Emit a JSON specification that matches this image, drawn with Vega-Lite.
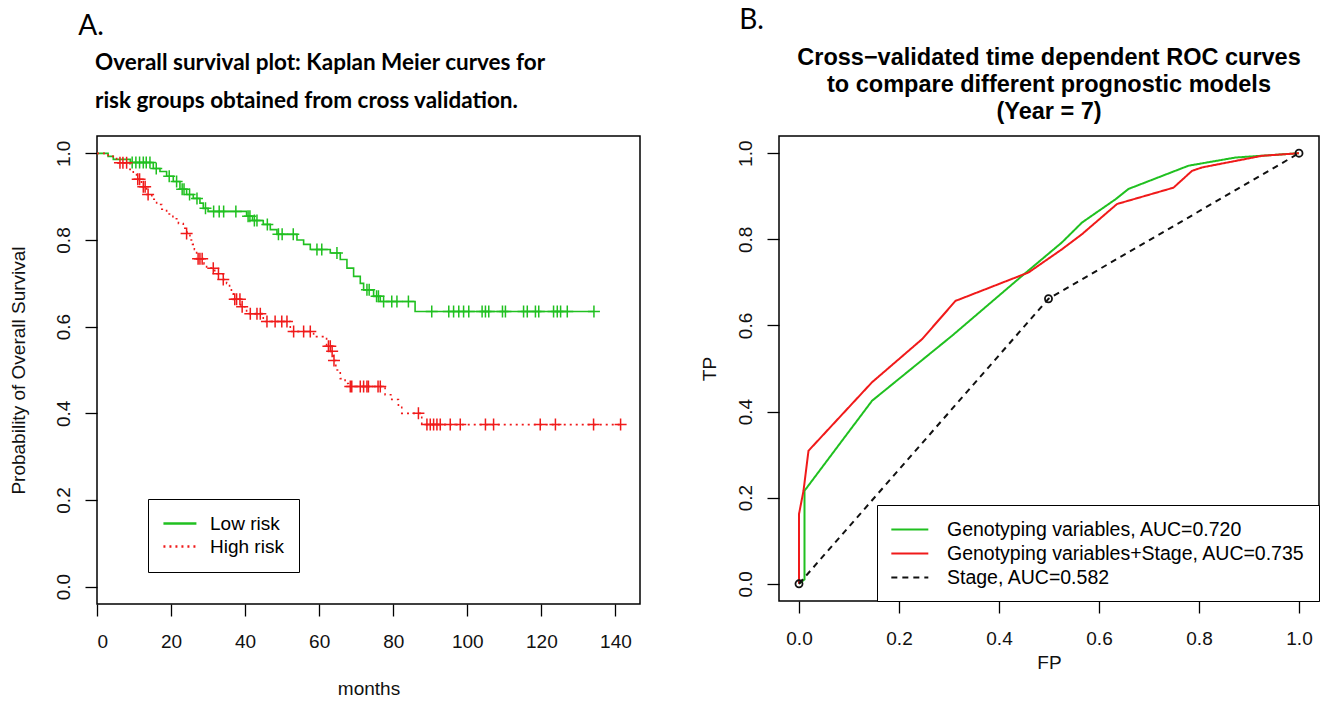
{
  "$schema": "https://vega.github.io/schema/vega-lite/v6.json",
  "background": "white",
  "autosize": {"type": "pad"},
  "padding": {"left": 8, "top": 6, "right": 2, "bottom": 2},
  "spacing": 58,
  "resolve": {
    "scale": {"color": "independent", "strokeDash": "independent", "x": "independent", "y": "independent"},
    "legend": {"color": "independent", "strokeDash": "independent"}
  },
  "datasets": {
    "km": [
      {"group": "Low risk", "t": 0, "s": 1.0},
      {"group": "Low risk", "t": 3, "s": 0.993},
      {"group": "Low risk", "t": 4.4, "s": 0.986},
      {"group": "Low risk", "t": 9, "s": 0.979},
      {"group": "Low risk", "t": 15.2, "s": 0.965},
      {"group": "Low risk", "t": 17.0, "s": 0.958},
      {"group": "Low risk", "t": 18.8, "s": 0.947},
      {"group": "Low risk", "t": 20.6, "s": 0.935},
      {"group": "Low risk", "t": 22.4, "s": 0.917},
      {"group": "Low risk", "t": 24.2, "s": 0.905},
      {"group": "Low risk", "t": 26.0, "s": 0.896},
      {"group": "Low risk", "t": 27.8, "s": 0.885},
      {"group": "Low risk", "t": 28.7, "s": 0.873},
      {"group": "Low risk", "t": 30.0, "s": 0.866},
      {"group": "Low risk", "t": 40.4, "s": 0.855},
      {"group": "Low risk", "t": 42.0, "s": 0.845},
      {"group": "Low risk", "t": 44.9, "s": 0.836},
      {"group": "Low risk", "t": 46.8, "s": 0.824},
      {"group": "Low risk", "t": 48.6, "s": 0.813},
      {"group": "Low risk", "t": 54.0, "s": 0.80},
      {"group": "Low risk", "t": 55.8, "s": 0.79},
      {"group": "Low risk", "t": 57.6, "s": 0.778},
      {"group": "Low risk", "t": 63.0, "s": 0.77},
      {"group": "Low risk", "t": 65.7, "s": 0.755},
      {"group": "Low risk", "t": 67.5, "s": 0.735},
      {"group": "Low risk", "t": 69.3, "s": 0.716},
      {"group": "Low risk", "t": 71.1, "s": 0.70},
      {"group": "Low risk", "t": 72.0, "s": 0.685},
      {"group": "Low risk", "t": 74.7, "s": 0.67},
      {"group": "Low risk", "t": 76.5, "s": 0.658},
      {"group": "Low risk", "t": 85.9, "s": 0.635},
      {"group": "Low risk", "t": 134.2, "s": 0.635},
      {"group": "High risk", "t": 0, "s": 1.0},
      {"group": "High risk", "t": 3, "s": 0.993},
      {"group": "High risk", "t": 5.3, "s": 0.978},
      {"group": "High risk", "t": 8.9, "s": 0.963},
      {"group": "High risk", "t": 9.8, "s": 0.951},
      {"group": "High risk", "t": 10.7, "s": 0.94},
      {"group": "High risk", "t": 12.0, "s": 0.923},
      {"group": "High risk", "t": 13.4, "s": 0.905},
      {"group": "High risk", "t": 14.8, "s": 0.894},
      {"group": "High risk", "t": 16.1, "s": 0.882},
      {"group": "High risk", "t": 17.5, "s": 0.871},
      {"group": "High risk", "t": 18.8, "s": 0.86},
      {"group": "High risk", "t": 20.5, "s": 0.849},
      {"group": "High risk", "t": 22.0, "s": 0.838},
      {"group": "High risk", "t": 23.3, "s": 0.827},
      {"group": "High risk", "t": 24.3, "s": 0.815},
      {"group": "High risk", "t": 25.1, "s": 0.80},
      {"group": "High risk", "t": 25.8, "s": 0.79},
      {"group": "High risk", "t": 26.3, "s": 0.778},
      {"group": "High risk", "t": 26.9, "s": 0.757},
      {"group": "High risk", "t": 28.9, "s": 0.745},
      {"group": "High risk", "t": 29.6, "s": 0.735},
      {"group": "High risk", "t": 31.8, "s": 0.722},
      {"group": "High risk", "t": 34.1, "s": 0.709},
      {"group": "High risk", "t": 35.0, "s": 0.70},
      {"group": "High risk", "t": 35.8, "s": 0.688},
      {"group": "High risk", "t": 36.3, "s": 0.676},
      {"group": "High risk", "t": 36.8, "s": 0.663},
      {"group": "High risk", "t": 38.8, "s": 0.646},
      {"group": "High risk", "t": 40.4, "s": 0.63},
      {"group": "High risk", "t": 44.9, "s": 0.612},
      {"group": "High risk", "t": 52.2, "s": 0.589},
      {"group": "High risk", "t": 58.5, "s": 0.577},
      {"group": "High risk", "t": 62.0, "s": 0.555},
      {"group": "High risk", "t": 63.2, "s": 0.543},
      {"group": "High risk", "t": 63.8, "s": 0.522},
      {"group": "High risk", "t": 64.5, "s": 0.50},
      {"group": "High risk", "t": 65.7, "s": 0.48},
      {"group": "High risk", "t": 67.0, "s": 0.469},
      {"group": "High risk", "t": 67.9, "s": 0.462},
      {"group": "High risk", "t": 77.8, "s": 0.443},
      {"group": "High risk", "t": 79.6, "s": 0.432},
      {"group": "High risk", "t": 81.4, "s": 0.416},
      {"group": "High risk", "t": 82.3, "s": 0.40},
      {"group": "High risk", "t": 87.7, "s": 0.374},
      {"group": "High risk", "t": 141.4, "s": 0.374}
    ],
    "cens": [
      {"group": "Low risk", "t": 9.5, "s": 0.979},
      {"group": "Low risk", "t": 10.5, "s": 0.979},
      {"group": "Low risk", "t": 11.5, "s": 0.979},
      {"group": "Low risk", "t": 12.5, "s": 0.979},
      {"group": "Low risk", "t": 13.3, "s": 0.979},
      {"group": "Low risk", "t": 14.3, "s": 0.979},
      {"group": "Low risk", "t": 16.0, "s": 0.965},
      {"group": "Low risk", "t": 19.5, "s": 0.947},
      {"group": "Low risk", "t": 21.5, "s": 0.935},
      {"group": "Low risk", "t": 23.0, "s": 0.917},
      {"group": "Low risk", "t": 23.5, "s": 0.917},
      {"group": "Low risk", "t": 25.0, "s": 0.905},
      {"group": "Low risk", "t": 27.0, "s": 0.896},
      {"group": "Low risk", "t": 29.3, "s": 0.873},
      {"group": "Low risk", "t": 31.5, "s": 0.866},
      {"group": "Low risk", "t": 33.0, "s": 0.866},
      {"group": "Low risk", "t": 34.2, "s": 0.866},
      {"group": "Low risk", "t": 37.5, "s": 0.866},
      {"group": "Low risk", "t": 40.8, "s": 0.855},
      {"group": "Low risk", "t": 41.3, "s": 0.855},
      {"group": "Low risk", "t": 42.5, "s": 0.845},
      {"group": "Low risk", "t": 43.2, "s": 0.845},
      {"group": "Low risk", "t": 46.0, "s": 0.836},
      {"group": "Low risk", "t": 49.0, "s": 0.813},
      {"group": "Low risk", "t": 50.0, "s": 0.813},
      {"group": "Low risk", "t": 53.0, "s": 0.813},
      {"group": "Low risk", "t": 59.4, "s": 0.778},
      {"group": "Low risk", "t": 60.7, "s": 0.778},
      {"group": "Low risk", "t": 64.8, "s": 0.77},
      {"group": "Low risk", "t": 72.9, "s": 0.685},
      {"group": "Low risk", "t": 73.5, "s": 0.685},
      {"group": "Low risk", "t": 75.5, "s": 0.67},
      {"group": "Low risk", "t": 76.0, "s": 0.67},
      {"group": "Low risk", "t": 77.4, "s": 0.658},
      {"group": "Low risk", "t": 79.6, "s": 0.658},
      {"group": "Low risk", "t": 81.0, "s": 0.658},
      {"group": "Low risk", "t": 84.1, "s": 0.658},
      {"group": "Low risk", "t": 90.4, "s": 0.635},
      {"group": "Low risk", "t": 95.0, "s": 0.635},
      {"group": "Low risk", "t": 96.3, "s": 0.635},
      {"group": "Low risk", "t": 97.7, "s": 0.635},
      {"group": "Low risk", "t": 99.0, "s": 0.635},
      {"group": "Low risk", "t": 100.4, "s": 0.635},
      {"group": "Low risk", "t": 104.0, "s": 0.635},
      {"group": "Low risk", "t": 104.9, "s": 0.635},
      {"group": "Low risk", "t": 105.8, "s": 0.635},
      {"group": "Low risk", "t": 109.5, "s": 0.635},
      {"group": "Low risk", "t": 110.3, "s": 0.635},
      {"group": "Low risk", "t": 115.2, "s": 0.635},
      {"group": "Low risk", "t": 116.2, "s": 0.635},
      {"group": "Low risk", "t": 118.4, "s": 0.635},
      {"group": "Low risk", "t": 119.3, "s": 0.635},
      {"group": "Low risk", "t": 123.3, "s": 0.635},
      {"group": "Low risk", "t": 124.3, "s": 0.635},
      {"group": "Low risk", "t": 125.2, "s": 0.635},
      {"group": "Low risk", "t": 127.0, "s": 0.635},
      {"group": "Low risk", "t": 134.2, "s": 0.635},
      {"group": "High risk", "t": 6.2, "s": 0.978},
      {"group": "High risk", "t": 7.0, "s": 0.978},
      {"group": "High risk", "t": 8.0, "s": 0.978},
      {"group": "High risk", "t": 11.0, "s": 0.94},
      {"group": "High risk", "t": 11.5, "s": 0.94},
      {"group": "High risk", "t": 12.5, "s": 0.923},
      {"group": "High risk", "t": 13.0, "s": 0.923},
      {"group": "High risk", "t": 13.8, "s": 0.905},
      {"group": "High risk", "t": 24.2, "s": 0.815},
      {"group": "High risk", "t": 27.3, "s": 0.757},
      {"group": "High risk", "t": 27.8, "s": 0.757},
      {"group": "High risk", "t": 28.4, "s": 0.757},
      {"group": "High risk", "t": 31.4, "s": 0.735},
      {"group": "High risk", "t": 32.8, "s": 0.722},
      {"group": "High risk", "t": 34.1, "s": 0.709},
      {"group": "High risk", "t": 37.2, "s": 0.663},
      {"group": "High risk", "t": 37.7, "s": 0.663},
      {"group": "High risk", "t": 38.6, "s": 0.663},
      {"group": "High risk", "t": 39.2, "s": 0.646},
      {"group": "High risk", "t": 41.4, "s": 0.63},
      {"group": "High risk", "t": 43.2, "s": 0.63},
      {"group": "High risk", "t": 44.1, "s": 0.63},
      {"group": "High risk", "t": 45.9, "s": 0.612},
      {"group": "High risk", "t": 48.1, "s": 0.612},
      {"group": "High risk", "t": 49.9, "s": 0.612},
      {"group": "High risk", "t": 51.3, "s": 0.612},
      {"group": "High risk", "t": 53.1, "s": 0.589},
      {"group": "High risk", "t": 55.8, "s": 0.589},
      {"group": "High risk", "t": 57.6, "s": 0.589},
      {"group": "High risk", "t": 62.5, "s": 0.555},
      {"group": "High risk", "t": 63.0, "s": 0.555},
      {"group": "High risk", "t": 63.5, "s": 0.543},
      {"group": "High risk", "t": 64.0, "s": 0.522},
      {"group": "High risk", "t": 68.4, "s": 0.462},
      {"group": "High risk", "t": 68.8, "s": 0.462},
      {"group": "High risk", "t": 71.1, "s": 0.462},
      {"group": "High risk", "t": 72.0, "s": 0.462},
      {"group": "High risk", "t": 72.9, "s": 0.462},
      {"group": "High risk", "t": 73.3, "s": 0.462},
      {"group": "High risk", "t": 75.9, "s": 0.462},
      {"group": "High risk", "t": 76.5, "s": 0.462},
      {"group": "High risk", "t": 86.8, "s": 0.40},
      {"group": "High risk", "t": 89.1, "s": 0.374},
      {"group": "High risk", "t": 90.0, "s": 0.374},
      {"group": "High risk", "t": 90.9, "s": 0.374},
      {"group": "High risk", "t": 91.8, "s": 0.374},
      {"group": "High risk", "t": 92.7, "s": 0.374},
      {"group": "High risk", "t": 95.4, "s": 0.374},
      {"group": "High risk", "t": 98.1, "s": 0.374},
      {"group": "High risk", "t": 104.9, "s": 0.374},
      {"group": "High risk", "t": 107.1, "s": 0.374},
      {"group": "High risk", "t": 119.7, "s": 0.374},
      {"group": "High risk", "t": 123.8, "s": 0.374},
      {"group": "High risk", "t": 134.1, "s": 0.374},
      {"group": "High risk", "t": 141.4, "s": 0.374}
    ],
    "roc": [
      {"model": "Genotyping variables, AUC=0.720", "i": 0, "fp": 0, "tp": 0},
      {"model": "Genotyping variables, AUC=0.720", "i": 1, "fp": 0.011, "tp": 0.01},
      {"model": "Genotyping variables, AUC=0.720", "i": 2, "fp": 0.011, "tp": 0.216},
      {"model": "Genotyping variables, AUC=0.720", "i": 3, "fp": 0.146, "tp": 0.425},
      {"model": "Genotyping variables, AUC=0.720", "i": 4, "fp": 0.306, "tp": 0.576},
      {"model": "Genotyping variables, AUC=0.720", "i": 5, "fp": 0.446, "tp": 0.715},
      {"model": "Genotyping variables, AUC=0.720", "i": 6, "fp": 0.526, "tp": 0.793},
      {"model": "Genotyping variables, AUC=0.720", "i": 7, "fp": 0.566, "tp": 0.839},
      {"model": "Genotyping variables, AUC=0.720", "i": 8, "fp": 0.633, "tp": 0.893},
      {"model": "Genotyping variables, AUC=0.720", "i": 9, "fp": 0.659, "tp": 0.917},
      {"model": "Genotyping variables, AUC=0.720", "i": 10, "fp": 0.779, "tp": 0.971},
      {"model": "Genotyping variables, AUC=0.720", "i": 11, "fp": 0.873, "tp": 0.99},
      {"model": "Genotyping variables, AUC=0.720", "i": 12, "fp": 1.0, "tp": 1.0},
      {"model": "Genotyping variables+Stage, AUC=0.735", "i": 0, "fp": 0, "tp": 0},
      {"model": "Genotyping variables+Stage, AUC=0.735", "i": 1, "fp": 0, "tp": 0.162},
      {"model": "Genotyping variables+Stage, AUC=0.735", "i": 2, "fp": 0.009, "tp": 0.216},
      {"model": "Genotyping variables+Stage, AUC=0.735", "i": 3, "fp": 0.019, "tp": 0.309},
      {"model": "Genotyping variables+Stage, AUC=0.735", "i": 4, "fp": 0.146, "tp": 0.468},
      {"model": "Genotyping variables+Stage, AUC=0.735", "i": 5, "fp": 0.246, "tp": 0.568},
      {"model": "Genotyping variables+Stage, AUC=0.735", "i": 6, "fp": 0.313, "tp": 0.657},
      {"model": "Genotyping variables+Stage, AUC=0.735", "i": 7, "fp": 0.459, "tp": 0.723},
      {"model": "Genotyping variables+Stage, AUC=0.735", "i": 8, "fp": 0.526, "tp": 0.777},
      {"model": "Genotyping variables+Stage, AUC=0.735", "i": 9, "fp": 0.566, "tp": 0.812},
      {"model": "Genotyping variables+Stage, AUC=0.735", "i": 10, "fp": 0.636, "tp": 0.882},
      {"model": "Genotyping variables+Stage, AUC=0.735", "i": 11, "fp": 0.749, "tp": 0.92},
      {"model": "Genotyping variables+Stage, AUC=0.735", "i": 12, "fp": 0.786, "tp": 0.959},
      {"model": "Genotyping variables+Stage, AUC=0.735", "i": 13, "fp": 0.806, "tp": 0.967},
      {"model": "Genotyping variables+Stage, AUC=0.735", "i": 14, "fp": 0.926, "tp": 0.994},
      {"model": "Genotyping variables+Stage, AUC=0.735", "i": 15, "fp": 1.0, "tp": 1.0},
      {"model": "Stage, AUC=0.582", "i": 0, "fp": 0, "tp": 0},
      {"model": "Stage, AUC=0.582", "i": 1, "fp": 0.499, "tp": 0.662},
      {"model": "Stage, AUC=0.582", "i": 2, "fp": 1.0, "tp": 1.0}
    ]
  },
  "hconcat": [
    {
      "title": {"text": "A.", "anchor": "start", "font": "Lato", "fontSize": 28, "fontWeight": "normal", "color": "black", "offset": 10, "dx": 70},
      "hconcat": [
        {
          "width": 543,
          "height": 468,
          "title": {
            "text": ["Overall survival plot: Kaplan Meier curves for", "risk groups obtained from cross validation."],
            "anchor": "start", "frame": "group", "font": "Lato", "fontSize": 22.5, "fontWeight": "bold",
            "lineHeight": 38, "offset": 24, "color": "black", "dx": -2
          },
          "layer": [
            {
              "data": {"name": "km"},
              "mark": {"type": "line", "interpolate": "step-after", "strokeWidth": 1.6},
              "encoding": {
                "x": {"field": "t", "type": "quantitative",
                  "scale": {"domain": [0, 146.64], "nice": false, "zero": false},
                  "axis": {"values": [0, 20, 40, 60, 80, 100, 120, 140], "format": "d", "title": "months", "titlePadding": 28}},
                "y": {"field": "s", "type": "quantitative",
                  "scale": {"domain": [-0.04, 1.04], "nice": false, "zero": false},
                  "axis": {"values": [0, 0.2, 0.4, 0.6, 0.8, 1.0], "format": ".1f", "title": "Probability of Overall Survival", "titlePadding": 26}},
                "color": {"field": "group", "type": "nominal",
                  "scale": {"domain": ["Low risk", "High risk"], "range": ["#20c020", "#f01a1a"]},
                  "legend": {"title": null, "orient": "none", "legendX": 51, "legendY": 363, "strokeColor": "black", "fillColor": "white",
                    "padding": 15, "symbolType": "M-1.1,0H2.9", "symbolSize": 272, "symbolStrokeWidth": 2.5,
                    "labelFont": "Liberation Sans", "labelFontSize": 19, "labelColor": "black", "labelOffset": 28, "rowPadding": 3}},
                "strokeDash": {"field": "group", "type": "nominal",
                  "scale": {"domain": ["Low risk", "High risk"], "range": [[1, 0], [2, 4]]},
                  "legend": {"title": null, "orient": "none", "legendX": 51, "legendY": 363, "strokeColor": "black", "fillColor": "white",
                    "padding": 15, "symbolType": "M-1.1,0H2.9", "symbolSize": 272, "symbolStrokeWidth": 2.5,
                    "labelFont": "Liberation Sans", "labelFontSize": 19, "labelColor": "black", "labelOffset": 28, "rowPadding": 3}}
              }
            },
            {
              "data": {"name": "cens"},
              "transform": [{"filter": "datum.group === 'Low risk'"}],
              "mark": {"type": "point", "shape": "M-1,0H1M0,-1V1", "filled": false, "size": 144, "strokeWidth": 1.5, "color": "#20c020", "opacity": 1},
              "encoding": {
                "x": {"field": "t", "type": "quantitative"},
                "y": {"field": "s", "type": "quantitative"}
              }
            },
            {
              "data": {"name": "cens"},
              "transform": [{"filter": "datum.group === 'High risk'"}],
              "mark": {"type": "point", "shape": "M-1,0H1M0,-1V1", "filled": false, "size": 144, "strokeWidth": 1.5, "color": "#f01a1a", "opacity": 1},
              "encoding": {
                "x": {"field": "t", "type": "quantitative"},
                "y": {"field": "s", "type": "quantitative"}
              }
            }
          ]
        }
      ]
    },
    {
      "title": {"text": "B.", "anchor": "start", "font": "Lato", "fontSize": 28, "fontWeight": "normal", "color": "black", "offset": 10, "dx": 40},
      "hconcat": [
        {
          "width": 540,
          "height": 465,
          "title": {
            "text": ["Cross\u2212validated time dependent ROC curves", "to compare different prognostic models", "(Year = 7)"],
            "anchor": "middle", "frame": "group", "font": "Liberation Sans", "fontSize": 23.5, "fontWeight": "bold",
            "lineHeight": 27, "offset": 13, "color": "black"
          },
          "layer": [
            {
              "data": {"name": "roc"},
              "mark": {"type": "line", "strokeWidth": 2},
              "encoding": {
                "x": {"field": "fp", "type": "quantitative",
                  "scale": {"domain": [-0.04, 1.04], "nice": false, "zero": false},
                  "axis": {"values": [0, 0.2, 0.4, 0.6, 0.8, 1.0], "format": ".1f", "title": "FP", "titlePadding": 5}},
                "y": {"field": "tp", "type": "quantitative",
                  "scale": {"domain": [-0.04, 1.04], "nice": false, "zero": false},
                  "axis": {"values": [0, 0.2, 0.4, 0.6, 0.8, 1.0], "format": ".1f", "title": "TP", "titlePadding": 17}},
                "order": {"field": "i", "type": "quantitative"},
                "color": {"field": "model", "type": "nominal",
                  "scale": {"domain": ["Genotyping variables, AUC=0.720", "Genotyping variables+Stage, AUC=0.735", "Stage, AUC=0.582"], "range": ["#20c020", "#f01a1a", "#111111"]},
                  "legend": {"title": null, "orient": "none", "legendX": 98, "legendY": 369, "strokeColor": "black", "fillColor": "white",
                    "padding": 14, "symbolType": "M-1.1,0H2.9", "symbolSize": 342, "symbolStrokeWidth": 2,
                    "labelFont": "Liberation Sans", "labelFontSize": 19.5, "labelColor": "black", "labelOffset": 35, "rowPadding": 4, "labelLimit": 600}},
                "strokeDash": {"field": "model", "type": "nominal",
                  "scale": {"domain": ["Genotyping variables, AUC=0.720", "Genotyping variables+Stage, AUC=0.735", "Stage, AUC=0.582"], "range": [[1, 0], [1, 0], [6, 5]]},
                  "legend": {"title": null, "orient": "none", "legendX": 98, "legendY": 369, "strokeColor": "black", "fillColor": "white",
                    "padding": 14, "symbolType": "M-1.1,0H2.9", "symbolSize": 342, "symbolStrokeWidth": 2,
                    "labelFont": "Liberation Sans", "labelFontSize": 19.5, "labelColor": "black", "labelOffset": 35, "rowPadding": 4, "labelLimit": 600}}
              }
            },
            {
              "data": {"name": "roc"},
              "transform": [{"filter": "datum.model === 'Stage, AUC=0.582'"}],
              "mark": {"type": "point", "shape": "circle", "filled": false, "size": 50, "strokeWidth": 1.8, "color": "#111111", "opacity": 1},
              "encoding": {
                "x": {"field": "fp", "type": "quantitative"},
                "y": {"field": "tp", "type": "quantitative"}
              }
            }
          ]
        }
      ]
    }
  ],
  "config": {
    "view": {"stroke": "black", "strokeWidth": 1.5},
    "axis": {
      "domain": false, "grid": false, "ticks": true, "tickColor": "black", "tickSize": 12, "tickWidth": 1.3,
      "labelFont": "Liberation Sans", "labelFontSize": 19, "labelColor": "#111111", "labelPadding": 16,
      "titleFont": "Liberation Sans", "titleFontSize": 19, "titleFontWeight": "normal", "titleColor": "#111111"
    },
    "axisY": {"labelAngle": 270, "labelAlign": "center", "labelBaseline": "bottom", "labelPadding": 12},
    "title": {"color": "black"}
  }
}
